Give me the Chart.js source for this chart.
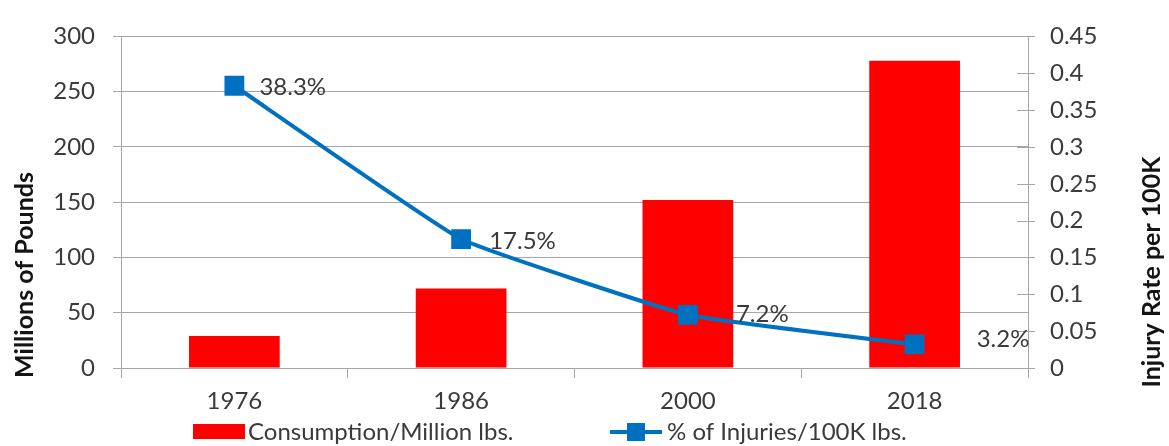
<!DOCTYPE html>
<html><head><meta charset="utf-8">
<script src="https://cdn.jsdelivr.net/npm/chart.js@4"></script>
<style>html,body{margin:0;padding:0;background:#fff}#wrap{width:1169px;height:446px;position:relative}</style>
</head><body><div id="wrap"><canvas id="c"></canvas></div>
<script>
const categories = ['1976', '1986', '2000', '2018'];
const consumption = [29, 72, 152, 278];
const injuryRate = [0.383, 0.175, 0.072, 0.032];
const injuryLabels = ['38.3%', '17.5%', '7.2%', '3.2%'];
const leftTickValues = [0, 50, 100, 150, 200, 250, 300];
const rightTickValues = [0, 0.05, 0.1, 0.15, 0.2, 0.25, 0.3, 0.35, 0.4, 0.45];
const rightTickLabels = ['0', '0.05', '0.1', '0.15', '0.2', '0.25', '0.3', '0.35', '0.4', '0.45'];
const seriesNames = ['Consumption/Million lbs.', '% of Injuries/100K lbs.'];
const axisTitles = ['Millions of Pounds', 'Injury Rate per 100K'];

const FONT = 'Lato, "Open Sans", sans-serif';
const FS = 24;
const TXT = '#3a3a3a';
const GRID = '#a6a6a6';
const RED = '#ff0000';
const BLUE = '#0070c0';

const labelOffsets = [[25, 1], [28, 2], [48, -1], [62, -5]];

const extras = {
  id: 'extras',
  afterDatasetsDraw(chart) {
    const ctx = chart.ctx;
    const y1 = chart.scales.y1;
    ctx.save();
    ctx.strokeStyle = GRID; ctx.lineWidth = 1;
    y1.ticks.forEach((t) => {
      const y = Math.round(y1.getPixelForValue(t.value)) + 0.5;
      ctx.beginPath(); ctx.moveTo(y1.left - 11, y); ctx.lineTo(y1.left + 7, y); ctx.stroke();
    });
    const meta = chart.getDatasetMeta(1);
    ctx.fillStyle = TXT;
    ctx.font = FS + 'px ' + FONT;
    ctx.textAlign = 'left'; ctx.textBaseline = 'middle';
    meta.data.forEach((pt, i) => {
      const o = labelOffsets[i];
      ctx.fillText(injuryLabels[i], pt.x + o[0], pt.y + o[1]);
    });
    ctx.restore();
  },
  afterDraw(chart) {
    const ctx = chart.ctx;
    ctx.save();
    ctx.fillStyle = '#141414';
    ctx.font = 'bold 25px ' + FONT;
    ctx.textAlign = 'center'; ctx.textBaseline = 'middle';
    ctx.save(); ctx.translate(25, 275); ctx.rotate(-Math.PI / 2); ctx.fillText(axisTitles[0], 0, 0); ctx.restore();
    ctx.save(); ctx.translate(1152, 272); ctx.rotate(-Math.PI / 2); ctx.fillText(axisTitles[1], 0, 0); ctx.restore();
    ctx.font = FS + 'px ' + FONT;
    ctx.textAlign = 'left';
    ctx.fillStyle = RED;
    ctx.fillRect(193, 424, 52, 15);
    ctx.fillStyle = TXT;
    ctx.fillText(seriesNames[0], 248, 432);
    ctx.strokeStyle = BLUE; ctx.lineWidth = 4;
    ctx.beginPath(); ctx.moveTo(610, 432); ctx.lineTo(662, 432); ctx.stroke();
    ctx.fillStyle = BLUE;
    ctx.fillRect(627, 423, 18, 18);
    ctx.fillStyle = TXT;
    ctx.fillText(seriesNames[1], 667, 432);
    ctx.restore();
  }
};

new Chart(document.getElementById('c'), {
  data: {
    labels: categories,
    datasets: [
      { type: 'bar', label: seriesNames[0], data: consumption, backgroundColor: RED, yAxisID: 'y',
        barPercentage: 0.4, categoryPercentage: 1.0, order: 2 },
      { type: 'line', label: seriesNames[1], data: injuryRate, yAxisID: 'y1', borderColor: BLUE, borderWidth: 4,
        backgroundColor: BLUE, pointStyle: 'rect', pointRadius: 14, pointHoverRadius: 14, pointBorderWidth: 0,
        tension: 0.1, order: 1 }
    ]
  },
  options: {
    responsive: true, maintainAspectRatio: false, animation: false,
    layout: { padding: { top: 21, left: 0, right: 0, bottom: 0 } },
    plugins: { legend: { display: false }, tooltip: { enabled: false } },
    scales: {
      x: {
        offset: true,
        grid: { drawOnChartArea: false, offset: true, color: GRID, tickLength: 10 },
        border: { color: GRID },
        ticks: { color: TXT, font: { family: FONT, size: FS }, padding: 9, maxRotation: 0 },
        afterFit(s) { s.height = 78; }
      },
      y: {
        position: 'left', min: 0, max: 300,
        afterBuildTicks(s) { s.ticks = leftTickValues.map(v => ({ value: v })); },
        grid: { color: GRID, tickLength: 8 },
        border: { color: GRID },
        ticks: { color: TXT, font: { family: FONT, size: FS }, padding: 18, callback: v => String(v) },
        afterFit(s) { s.width = 121; }
      },
      y1: {
        position: 'right', min: 0, max: 0.45,
        afterBuildTicks(s) { s.ticks = rightTickValues.map(v => ({ value: v })); },
        grid: { drawOnChartArea: false, drawTicks: false },
        border: { color: GRID },
        ticks: { color: TXT, font: { family: FONT, size: FS }, padding: 22,
          callback: (v, i) => rightTickLabels[i] },
        afterFit(s) { s.width = 141; }
      }
    }
  },
  plugins: [extras]
});
</script></body></html>
